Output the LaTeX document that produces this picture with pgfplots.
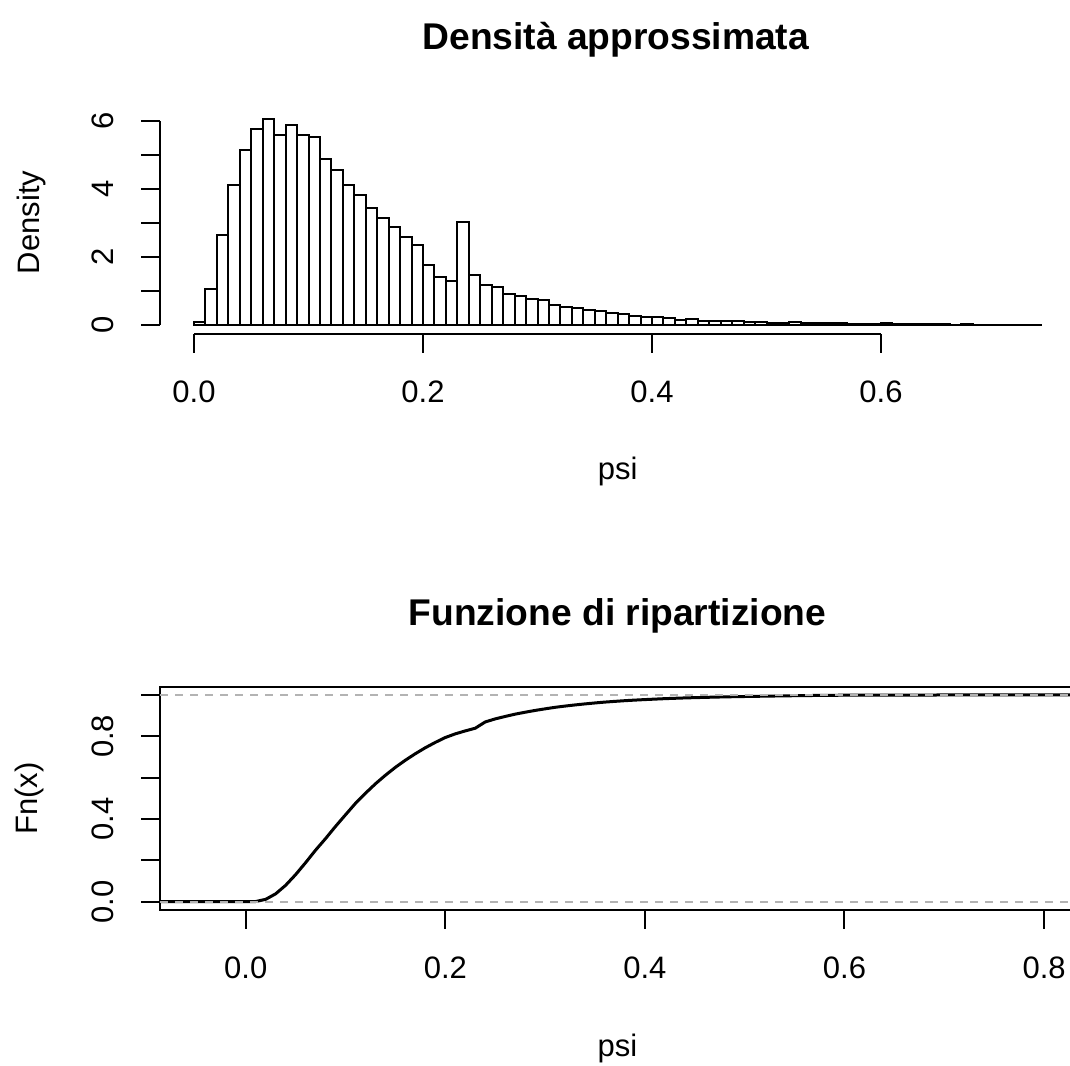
\documentclass[border=0pt]{standalone}
\usepackage{fontspec}
\setmainfont{Liberation Sans}
\usepackage{pgfplots}
\usepackage{pgfplotstable}
\pgfplotsset{compat=1.18}
\definecolor{gray70}{RGB}{179,179,179}
\newcommand{\tickfont}{\fontsize{15.5}{18}\selectfont}
\newcommand{\titlefont}{\bfseries\fontsize{18.6}{22}\selectfont}

\pgfplotstableread{
x h
0.00 0.10
0.01 1.06
0.02 2.66
0.03 4.13
0.04 5.16
0.05 5.78
0.06 6.06
0.07 5.59
0.08 5.90
0.09 5.61
0.10 5.54
0.11 4.88
0.12 4.57
0.13 4.14
0.14 3.83
0.15 3.44
0.16 3.15
0.17 2.88
0.18 2.59
0.19 2.35
0.20 1.77
0.21 1.43
0.22 1.30
0.23 3.03
0.24 1.48
0.25 1.18
0.26 1.12
0.27 0.92
0.28 0.87
0.29 0.77
0.30 0.74
0.31 0.60
0.32 0.55
0.33 0.50
0.34 0.46
0.35 0.42
0.36 0.35
0.37 0.33
0.38 0.28
0.39 0.25
0.40 0.24
0.41 0.21
0.42 0.16
0.43 0.19
0.44 0.14
0.45 0.13
0.46 0.12
0.47 0.12
0.48 0.09
0.49 0.09
0.50 0.08
0.51 0.08
0.52 0.09
0.53 0.07
0.54 0.06
0.55 0.06
0.56 0.06
0.57 0.05
0.58 0.04
0.59 0.04
0.60 0.06
0.61 0.04
0.62 0.03
0.63 0.03
0.64 0.03
0.65 0.03
0.66 0.02
0.67 0.03
0.68 0.02
0.69 0.02
0.70 0.02
0.71 0.02
0.72 0.02
0.73 0.02
0.74 0.02
}\histdata

\pgfplotstableread{
x F
-0.0859 0
0.00 0
0.01 0.0010
0.02 0.0116
0.03 0.0382
0.04 0.0795
0.05 0.1311
0.06 0.1889
0.07 0.2495
0.08 0.3054
0.09 0.3644
0.10 0.4205
0.11 0.4759
0.12 0.5247
0.13 0.5704
0.14 0.6118
0.15 0.6501
0.16 0.6845
0.17 0.7160
0.18 0.7448
0.19 0.7707
0.20 0.7942
0.21 0.8119
0.22 0.8262
0.23 0.8392
0.24 0.8695
0.25 0.8843
0.26 0.8961
0.27 0.9073
0.28 0.9165
0.29 0.9252
0.30 0.9329
0.31 0.9403
0.32 0.9463
0.33 0.9518
0.34 0.9568
0.35 0.9614
0.36 0.9656
0.37 0.9691
0.38 0.9724
0.39 0.9752
0.40 0.9777
0.42 0.9822
0.44 0.9857
0.46 0.9884
0.48 0.9908
0.50 0.9926
0.52 0.9942
0.54 0.9958
0.56 0.9970
0.58 0.9981
0.60 0.9989
0.62 0.9993
0.65 0.9996
0.70 0.9999
0.74 1.0
0.831 1.0
}\ecdfdata

\pgfplotsset{rstyle/.style={
  scale only axis, anchor=south west,
  tick label style={font=\tickfont},
  label style={font=\tickfont},
  title style={font=\titlefont},
  tick align=outside, major tick length=9.4pt,
  tick style={black, line width=1pt},
  minor tick num=0,
  xticklabel style={anchor=base, yshift=-24.75pt},
  yticklabel style={xshift=-13.75pt, rotate=90, anchor=base},
}}

\begin{document}
\begin{tikzpicture}
% top: histogram
\begin{axis}[rstyle,
  at={(80pt,365.6pt)},
  width=457.6pt, height=111.35pt,
  xmin=-0.0297, xmax=0.7696, ymin=-0.25, ymax=6.30,
  axis x line*=bottom, axis y line*=left,
  axis line style={draw=none},
  clip=false,
  xtick={0,0.2,0.4,0.6}, xticklabels={0.0,0.2,0.4,0.6},
  ytick={0,1,2,3,4,5,6}, yticklabels={0,,2,,4,,6},
  title={Densità approssimata},
  title style={at={(axis description cs:0.498,1.222)}, anchor=base},
  xlabel={psi},
  xlabel style={at={(axis description cs:0.5,-0.656)}, anchor=base},
  ylabel={Density},
  ylabel style={at={(axis description cs:-0.1322,0.5)}, anchor=base},
]
\addplot[ybar interval, draw=black, fill=white, line width=1pt] table[x=x, y=h] {\histdata};
\draw[line width=1pt] (axis cs:0,-0.25) -- (axis cs:0.6,-0.25);
\draw[line width=1pt] (axis cs:-0.0297,0) -- (axis cs:-0.0297,6);
\end{axis}

% bottom: ecdf
\begin{axis}[rstyle,
  at={(80pt,77.5pt)},
  width=457.5pt, height=111.65pt,
  xmin=-0.0859, xmax=0.831, ymin=-0.04, ymax=1.04,
  axis line style={line width=1pt},
  tick pos=left,
  xtick={0,0.2,0.4,0.6,0.8}, xticklabels={0.0,0.2,0.4,0.6,0.8},
  ytick={0,0.2,0.4,0.6,0.8,1}, yticklabels={0.0,,0.4,,0.8,},
  title={Funzione di ripartizione},
  title style={at={(axis description cs:0.5,1.2194)}, anchor=base},
  xlabel={psi},
  xlabel style={at={(axis description cs:0.5,-0.654)}, anchor=base},
  ylabel={Fn(x)},
  ylabel style={at={(axis description cs:-0.1338,0.5)}, anchor=base},
]
\addplot[black, line width=1.5pt, line join=round] table[x=x, y=F] {\ecdfdata};
\addplot[gray70, line width=1pt, dash pattern=on 3.75pt off 3.75pt] coordinates {(-0.0859,0) (0.831,0)};
\addplot[gray70, line width=1pt, dash pattern=on 3.75pt off 3.75pt] coordinates {(-0.0859,1) (0.831,1)};
\end{axis}
\pgfresetboundingbox
\path[use as bounding box] (0,0) rectangle (535pt,532.5pt);
\end{tikzpicture}
\end{document}
